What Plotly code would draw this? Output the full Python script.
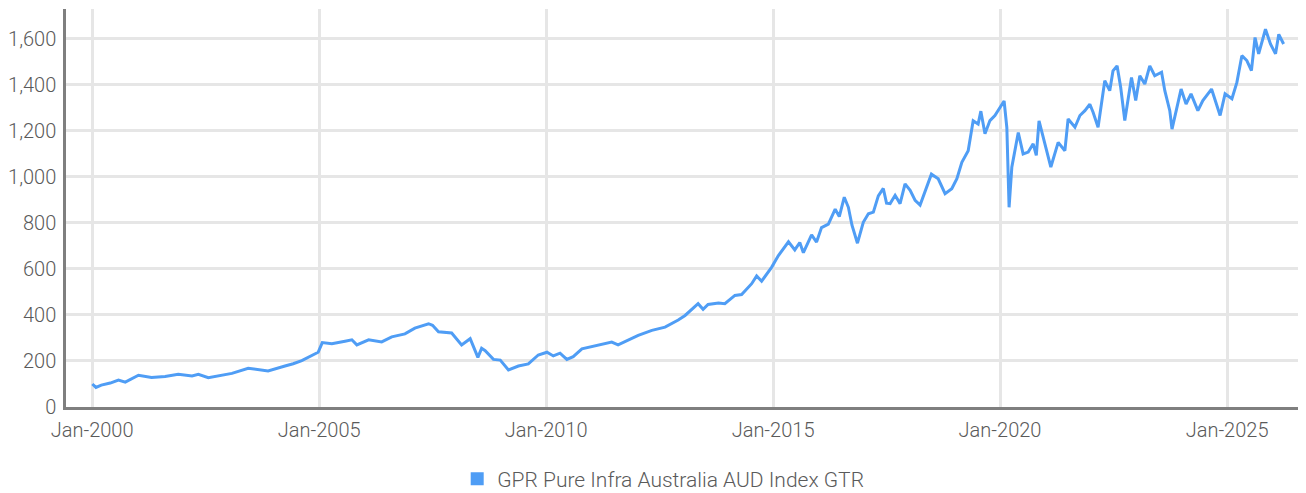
import plotly.graph_objects as go

series_name = "GPR Pure Infra Australia AUD Index GTR"

dates = [
    "2000-01-03", "2000-02-01", "2000-03-15", "2000-05-26", "2000-07-31", "2000-09-24",
    "2001-01-08", "2001-04-23", "2001-08-10", "2001-11-24",
    "2002-03-15", "2002-05-05", "2002-07-24", "2002-10-12",
    "2003-01-30", "2003-06-10", "2003-08-29", "2003-11-17",
    "2004-04-01", "2004-06-06", "2004-08-14", "2004-10-19", "2004-12-24",
    "2005-01-26", "2005-04-13", "2005-07-28", "2005-09-21", "2005-10-31",
    "2006-02-03", "2006-05-19", "2006-08-08", "2006-11-22",
    "2007-02-10", "2007-05-31", "2007-07-02", "2007-08-19", "2007-12-03",
    "2008-02-21", "2008-04-01", "2008-04-30", "2008-07-01", "2008-07-31", "2008-08-29",
    "2008-11-03", "2008-12-28",
    "2009-03-04", "2009-05-23", "2009-08-11", "2009-10-30",
    "2010-01-08", "2010-02-28", "2010-04-23", "2010-06-17", "2010-08-07", "2010-10-16",
    "2011-02-24", "2011-06-13", "2011-08-03", "2011-10-23",
    "2012-01-12", "2012-05-01", "2012-08-15", "2012-11-29",
    "2013-01-23", "2013-05-08", "2013-06-17", "2013-07-27", "2013-10-19", "2013-12-09",
    "2014-02-28", "2014-04-23", "2014-07-13", "2014-08-22", "2014-10-01", "2014-12-20",
    "2015-02-13", "2015-05-05", "2015-06-25", "2015-08-04", "2015-09-02", "2015-11-07",
    "2015-12-17",
    "2016-01-26", "2016-03-21", "2016-05-15", "2016-06-17", "2016-07-27", "2016-08-29",
    "2016-09-27", "2016-11-10", "2016-12-27",
    "2017-02-06", "2017-03-18", "2017-04-27", "2017-06-06", "2017-07-02", "2017-07-31",
    "2017-09-09", "2017-10-19", "2017-11-28",
    "2018-01-08", "2018-02-17", "2018-03-29", "2018-05-19", "2018-06-28", "2018-08-22",
    "2018-10-16", "2018-12-09",
    "2019-01-19", "2019-02-28", "2019-04-20", "2019-05-30", "2019-07-09", "2019-07-31",
    "2019-09-02", "2019-10-12", "2019-11-21",
    "2020-01-01", "2020-02-03", "2020-02-25", "2020-03-14", "2020-04-05", "2020-05-27",
    "2020-07-05", "2020-08-15", "2020-09-24", "2020-10-19", "2020-11-10", "2020-12-28",
    "2021-02-13", "2021-04-13", "2021-06-06", "2021-07-02", "2021-08-26", "2021-10-05",
    "2021-11-14", "2021-12-24",
    "2022-01-19", "2022-02-28", "2022-04-23", "2022-06-02", "2022-06-28", "2022-07-31",
    "2022-08-29", "2022-10-01", "2022-11-24", "2022-12-28",
    "2023-01-30", "2023-03-11", "2023-04-20", "2023-05-30", "2023-07-24", "2023-08-19",
    "2023-09-28", "2023-10-16", "2023-11-22", "2023-12-28",
    "2024-02-06", "2024-03-17", "2024-05-11", "2024-06-20", "2024-08-29", "2024-11-06",
    "2024-12-16",
    "2025-02-09", "2025-03-21", "2025-04-30", "2025-06-09", "2025-07-16", "2025-08-14",
    "2025-09-12", "2025-11-06", "2025-12-16",
    "2026-01-26", "2026-02-21", "2026-04-01",
]

values = [
    100, 85, 95, 104, 117, 108,
    138, 128, 133, 142,
    135, 142, 127, 136,
    146, 168, 163, 157,
    178, 188, 202, 220, 238,
    280, 275, 286, 292, 270,
    292, 283, 305, 318,
    343, 362, 355, 327, 322,
    270, 285, 297, 216, 255, 245,
    207, 204,
    161, 178, 187, 226,
    238, 222, 234, 207, 219, 253,
    268, 282, 270, 289,
    311, 333, 347, 378,
    398, 449, 425, 446, 452, 449,
    485, 489, 536, 570, 547, 607,
    658, 718, 683, 715, 671, 748,
    717,
    780, 795, 860, 828, 912, 868,
    790, 712, 803,
    840, 847, 918, 950, 886, 884,
    920, 884, 970,
    942, 898, 878, 949, 1012, 992,
    927, 949,
    992, 1064, 1114, 1244, 1230, 1286,
    1188, 1245, 1267,
    1302, 1330, 1215, 868, 1042, 1193,
    1100, 1108, 1144, 1094, 1244, 1144,
    1043, 1150, 1114, 1252, 1216, 1267,
    1288, 1316,
    1281, 1216, 1418, 1375, 1461, 1483,
    1390, 1245, 1432, 1332,
    1440, 1404, 1483, 1440, 1455, 1375,
    1288, 1208, 1303, 1382,
    1317, 1361, 1288, 1332, 1382, 1267,
    1361,
    1340, 1411, 1527, 1506, 1462, 1606,
    1535, 1642, 1578,
    1535, 1620, 1578,
]

x_ticks = ["2000-01-01", "2005-01-01", "2010-01-01", "2015-01-01", "2020-01-01", "2025-01-01"]
x_tick_labels = ["Jan-2000", "Jan-2005", "Jan-2010", "Jan-2015", "Jan-2020", "Jan-2025"]
y_ticks = [0, 200, 400, 600, 800, 1000, 1200, 1400, 1600]

LINE_COLOR = "#4F9DF5"
FONT = "Roboto, sans-serif"
TEXT_COLOR = "#5A5A5A"

fig = go.Figure()
fig.add_trace(go.Scatter(
    x=dates, y=values, mode="lines",
    line=dict(color=LINE_COLOR, width=3),
    name=series_name, showlegend=False,
))
fig.add_trace(go.Scatter(
    x=[None], y=[None], mode="markers",
    marker=dict(symbol="square", size=13, color=LINE_COLOR),
    name=series_name, showlegend=True,
))

# page body has an 8px default margin, so the figure is sized/offset to compensate
fig.update_layout(
    width=1298, height=485,
    margin=dict(l=58, r=1, t=1, b=86, autoexpand=False),
    paper_bgcolor="white", plot_bgcolor="white",
    font=dict(family=FONT, size=20, color=TEXT_COLOR, weight=300),
    showlegend=True,
    legend=dict(
        orientation="h", x=0.482, xanchor="center", y=-0.181, yanchor="middle",
        font=dict(family=FONT, size=21, color=TEXT_COLOR, weight=300),
        itemwidth=30, tracegroupgap=0,
    ),
    xaxis=dict(
        type="date",
        range=["1999-06-05", "2026-09-20"],
        tickvals=x_ticks, ticktext=x_tick_labels,
        showgrid=True, gridcolor="#E6E6E6", gridwidth=2.5,
        showline=True, linecolor="#7F7F7F", linewidth=2.5,
        ticks="", zeroline=False, automargin=False, ticklabelstandoff=3,
        tickfont=dict(family=FONT, size=20, color=TEXT_COLOR, weight=300),
    ),
    yaxis=dict(
        range=[0, 1730],
        tickvals=y_ticks, tickformat=",",
        showgrid=True, gridcolor="#E6E6E6", gridwidth=2.5,
        showline=True, linecolor="#7F7F7F", linewidth=2.5,
        ticks="", zeroline=False, ticklabelstandoff=3, automargin=False,
        tickfont=dict(family=FONT, size=20, color=TEXT_COLOR, weight=300),
    ),
)

fig.write_html("out.html")
